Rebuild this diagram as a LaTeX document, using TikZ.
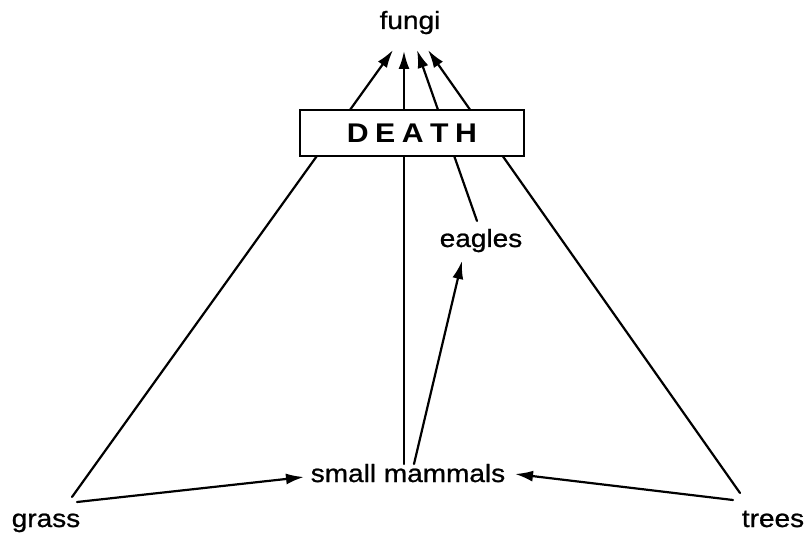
\documentclass[tikz,border=0pt]{standalone}
\usepackage{fontspec}
\setmainfont{Liberation Sans}[FakeStretch=1.12]
\newfontfamily\labelfont{Liberation Sans}[FakeStretch=1.12,FakeBold=0.9]
\usetikzlibrary{arrows.meta}
\begin{document}
\begin{tikzpicture}[x=1pt,y=-1pt,
  lbl/.style={font=\labelfont\fontsize{25}{30}\selectfont, inner sep=0pt, anchor=base},
  deathbox/.style={draw, fill=white, line width=2.2pt, minimum width=224pt, minimum height=46pt, inner sep=0pt, font=\fontsize{27}{30}\selectfont\bfseries},
  link/.style={line width=2.2pt, line cap=round},
  arr/.style={link, -{Latex[length=18pt,width=11pt]}}
]
\useasboundingbox (0,0) rectangle (811,537);
% text nodes
\node[lbl] (fungi) at (410,29) {fungi};
\node[lbl] (mammals) at (408,482) {small mammals};
\node[lbl] (grass) at (46,527) {grass};
\node[lbl] (trees) at (773,527) {trees};
\node[lbl] (eagles) at (481,247) {eagles};
% connector end points
\coordinate (fA) at (393,50);
\coordinate (fB) at (404,51);
\coordinate (fC) at (417,50);
\coordinate (fD) at (428,50);
\coordinate (gUp) at (72,497);
\coordinate (gRight) at (77,502);
\coordinate (tUp) at (740,493);
\coordinate (tLeft) at (733,500);
\coordinate (mUp) at (404,464);
\coordinate (mEagle) at (414,464);
\coordinate (mLeft) at (304,477);
\coordinate (mRight) at (515,474);
\coordinate (eUp) at (477,221);
\coordinate (eDown) at (462,261);
% connectors
\draw[arr] (gUp) -- (fA);
\draw[arr] (mUp) -- (fB);
\draw[arr] (eUp) -- (fC);
\draw[arr] (tUp) -- (fD);
\draw[arr] (gRight) -- (mLeft);
\draw[arr] (tLeft) -- (mRight);
\draw[arr] (mEagle) -- (eDown);
% death box on top
\node[deathbox] (death) at (412,133) {D\hspace{6.5pt}E\hspace{6.5pt}A\hspace{6.5pt}T\hspace{6.5pt}H};
\end{tikzpicture}
\end{document}
